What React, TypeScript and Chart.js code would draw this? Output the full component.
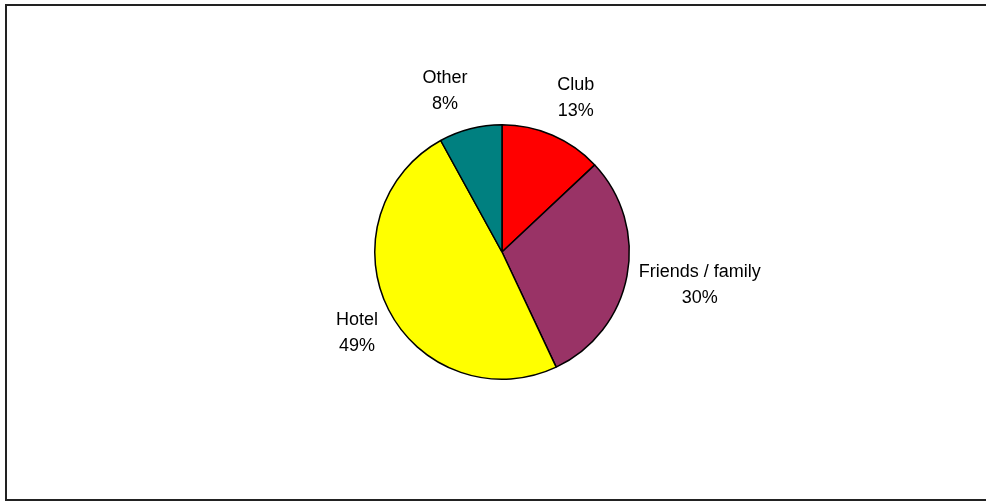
import React, { useEffect, useRef } from "react";
import { Chart, registerables } from "chart.js";

Chart.register(...registerables);

const categories = ["Club", "Friends / family", "Hotel", "Other"];
const shares = [13, 30, 49, 8];
const percentLabels = ["13%", "30%", "49%", "8%"];
const sliceColors = ["#FF0000", "#993366", "#FFFF00", "#008080"];

const FONT = '18px "Liberation Sans", Arial, sans-serif';
const LINE_H = 26;

const clamp = (v: number) => Math.max(-1, Math.min(1, v));

const labelPlugin = {
  id: "outsideLabels",
  afterDatasetsDraw(chart: any) {
    const ctx = chart.ctx;
    const meta = chart.getDatasetMeta(0);
    ctx.save();
    ctx.font = FONT;
    ctx.fillStyle = "#000";
    ctx.textAlign = "center";
    ctx.textBaseline = "middle";
    meta.data.forEach((arc: any, i: number) => {
      const p = arc.getProps(["startAngle", "endAngle", "x", "y", "outerRadius"], true);
      const m = (p.startAngle + p.endAngle) / 2;
      const lines = [categories[i], percentLabels[i]];
      const w = Math.max(...lines.map((t) => ctx.measureText(t).width));
      const h = LINE_H * lines.length;
      const r = p.outerRadius + 12;
      const dx = Math.cos(m);
      const dy = Math.sin(m);
      const cx = p.x + r * dx + (w / 2) * clamp(4 * dx);
      const cy = p.y + r * dy + (h / 2) * clamp(1.5 * dy);
      lines.forEach((t, k) => {
        ctx.fillText(t, cx, cy - h / 2 + LINE_H * (k + 0.5));
      });
    });
    ctx.restore();
  },
};

const framePlugin = {
  id: "frame",
  afterDraw(chart: any) {
    const ctx = chart.ctx;
    ctx.save();
    ctx.strokeStyle = "#222";
    ctx.lineWidth = 2;
    ctx.strokeRect(6, 5, 990, 495);
    ctx.restore();
  },
};

export default function App() {
  const ref = useRef<HTMLCanvasElement>(null);
  useEffect(() => {
    document.body.style.margin = "0";
    const chart = new Chart(ref.current!, {
      type: "pie",
      data: {
        labels: categories,
        datasets: [
          {
            data: shares,
            backgroundColor: sliceColors,
            borderColor: "#000",
            borderWidth: 1.5,
          },
        ],
      },
      options: {
        animation: false,
        responsive: false,
        layout: { padding: { left: 374, right: 356, top: 124, bottom: 122 } },
        plugins: {
          legend: { display: false },
          tooltip: { enabled: false },
        },
      },
      plugins: [labelPlugin, framePlugin],
    });
    return () => chart.destroy();
  }, []);
  return (
    <div style={{ position: "absolute", left: 0, top: 0, width: 986, height: 502, background: "#fff" }}>
      <canvas ref={ref} width={986} height={502} style={{ display: "block" }} />
    </div>
  );
}
